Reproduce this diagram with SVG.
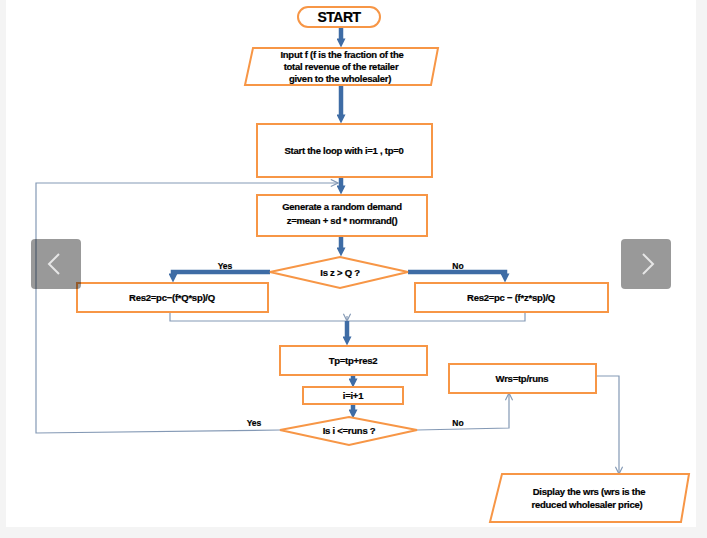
<svg xmlns="http://www.w3.org/2000/svg" width="707" height="538" viewBox="0 0 707 538">
<defs>
<style>
.bg{fill:#f4f4f4}
.panel{fill:#ffffff}
.box{fill:#ffffff;stroke:#f79646;stroke-width:2}
.t{font-family:"Liberation Sans",Arial,sans-serif;font-weight:bold;font-size:9.5px;fill:#000;stroke:#000;stroke-width:0.2;text-anchor:middle;letter-spacing:-0.25px}
.lbl{font-family:"Liberation Sans",Arial,sans-serif;font-weight:bold;font-size:8.5px;fill:#000;stroke:#000;stroke-width:0.2;text-anchor:middle}
.thick{fill:none;stroke:#3e6ca5;stroke-width:4.5}
.thin{fill:none;stroke:#8499b5;stroke-width:1.2}
.nav{fill:#000;fill-opacity:0.4}
.chev{fill:none;stroke:#e6e6e6;stroke-width:2}
</style>
<marker id="ah" markerUnits="userSpaceOnUse" viewBox="0 0 10 10" refX="4" refY="5" markerWidth="10" markerHeight="9" orient="auto">
<path d="M0,0 L10,5 L0,10 z" fill="#3e6ca5"/>
</marker>
<marker id="oh" markerUnits="userSpaceOnUse" viewBox="0 0 10 10" refX="9" refY="5" markerWidth="9" markerHeight="9" orient="auto">
<path d="M1,1 L9,5 L1,9" fill="none" stroke="#8499b5" stroke-width="1.3"/>
</marker>
</defs>
<rect class="bg" x="0" y="0" width="707" height="538"/>
<rect class="panel" x="6" y="0" width="690" height="527"/>

<g id="connectors">
<line class="thick" x1="341" y1="27" x2="341" y2="42" marker-end="url(#ah)"/>
<line class="thick" x1="341" y1="85" x2="341" y2="118" marker-end="url(#ah)"/>
<line class="thick" x1="341" y1="177" x2="341" y2="189" marker-end="url(#ah)"/>
<line class="thick" x1="341" y1="236" x2="341" y2="251" marker-end="url(#ah)"/>
<path class="thick" d="M270,272 H173 V277" marker-end="url(#ah)"/>
<path class="thick" d="M408,272 H505 V277" marker-end="url(#ah)"/>
<path class="thin" d="M170,312 V321 H525 V312"/>
<line class="thin" x1="347" y1="316" x2="347" y2="321" marker-end="url(#oh)"/>
<line class="thick" x1="347" y1="321" x2="347" y2="340" marker-end="url(#ah)"/>
<line class="thick" x1="353" y1="375" x2="353" y2="382" marker-end="url(#ah)"/>
<line class="thick" x1="353" y1="404" x2="353" y2="413" marker-end="url(#ah)"/>
<path class="thin" d="M280,430 L36,433 V183 H338" marker-end="url(#oh)"/>
<path class="thin" d="M417,430 L509,428 V393" marker-end="url(#oh)"/>
<path class="thin" d="M596,376 H619 V474" marker-end="url(#oh)"/>
<text class="lbl" x="225" y="269">Yes</text>
<text class="lbl" x="458" y="269">No</text>
<text class="lbl" x="254" y="426">Yes</text>
<text class="lbl" x="458" y="426">No</text>
</g>

<g id="start">
<rect class="box" x="298" y="7" width="82" height="20" rx="10" ry="10"/>
<text class="t" x="339" y="22" style="font-size:14px;letter-spacing:-0.5px">START</text>
</g>
<g id="input">
<polygon class="box" points="253,48 438,48 431,85 245,85"/>
<text class="t" x="342" y="58">Input f (f is the fraction of the</text>
<text class="t" x="341" y="70">total revenue of the retailer</text>
<text class="t" x="340" y="82">given to the wholesaler)</text>
</g>
<g id="init">
<rect class="box" x="257" y="124" width="175" height="53"/>
<text class="t" x="344" y="154">Start the loop with i=1 , tp=0</text>
</g>
<g id="generate">
<rect class="box" x="257" y="195" width="170" height="41"/>
<text class="t" x="342" y="210">Generate a random demand</text>
<text class="t" x="342" y="224">z=mean + sd * normrand()</text>
</g>
<g id="decision1">
<polygon class="box" points="340,257 408,272 340,288 270,272"/>
<text class="t" x="340" y="276">Is z &gt; Q ?</text>
</g>
<g id="res2yes">
<rect class="box" x="77" y="283" width="191" height="29"/>
<text class="t" x="172" y="301">Res2=pc−(f*Q*sp)/Q</text>
</g>
<g id="res2no">
<rect class="box" x="415" y="283" width="193" height="29"/>
<text class="t" x="511" y="301">Res2=pc − (f*z*sp)/Q</text>
</g>
<g id="tp">
<rect class="box" x="280" y="346" width="147" height="29"/>
<text class="t" x="353" y="364">Tp=tp+res2</text>
</g>
<g id="incr">
<rect class="box" x="303" y="387" width="100" height="17"/>
<text class="t" x="353" y="399">i=i+1</text>
</g>
<g id="decision2">
<polygon class="box" points="349,417 417,430 349,445 280,430"/>
<text class="t" x="349" y="434">Is i &lt;=runs ?</text>
</g>
<g id="wrs">
<rect class="box" x="449" y="364" width="147" height="29"/>
<text class="t" x="522" y="382">Wrs=tp/runs</text>
</g>
<g id="display">
<polygon class="box" points="502,474 689,474 681,522 490,522"/>
<text class="t" x="589" y="495">Display the wrs (wrs is the</text>
<text class="t" x="587" y="508">reduced wholesaler price)</text>
</g>
<g id="nav">
<rect class="nav" x="31" y="239" width="50" height="50" rx="4"/>
<polyline class="chev" points="59,254 49,264 59,274"/>
<rect class="nav" x="621" y="239" width="50" height="50" rx="4"/>
<polyline class="chev" points="643,254 653,264 643,274"/>
</g>
</svg>
